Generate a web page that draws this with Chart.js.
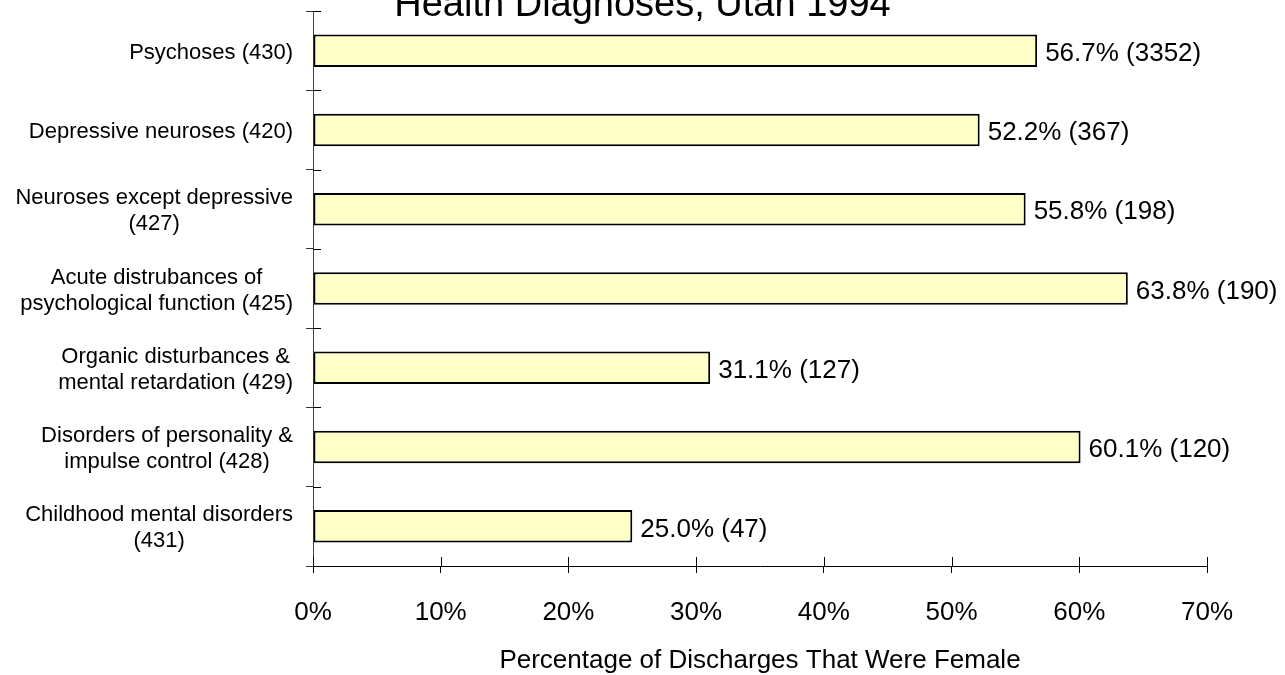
<!DOCTYPE html>
<html>
<head>
<meta charset="utf-8">
<script src="https://cdn.jsdelivr.net/npm/chart.js@4.4.1/dist/chart.umd.min.js"></script>
<style>
  html, body { margin: 0; padding: 0; background: #fff; }
</style>
</head>
<body>
<canvas id="dxChart" width="1285" height="675"></canvas>
<script>
const categories = [
  ['Psychoses (430)'],
  ['Depressive neuroses (420)'],
  ['Neuroses except depressive', '(427)'],
  ['Acute distrubances of', 'psychological function (425)'],
  ['Organic disturbances &', 'mental retardation (429)'],
  ['Disorders of personality &', 'impulse control (428)'],
  ['Childhood mental disorders', '(431)']
];
const pctFemale = [56.7, 52.2, 55.8, 63.8, 31.1, 60.1, 25.0];
const discharges = [3352, 367, 198, 190, 127, 120, 47];
const xTicks = [0, 10, 20, 30, 40, 50, 60, 70];
const titleText = 'Health Diagnoses, Utah 1994';
const xTitle = 'Percentage of Discharges That Were Female';

const FONT = '"Liberation Sans", Arial, sans-serif';

// category labels (centred lines, right-aligned block) + value labels + inner tick halves
const labelPlugin = {
  id: 'dxLabels',
  afterDraw(chart) {
    const ctx = chart.ctx;
    const xs = chart.scales.x;
    const ys = chart.scales.y;
    ctx.save();
    ctx.fillStyle = '#000';

    ctx.font = '22px ' + FONT;
    ctx.textAlign = 'center';
    ctx.textBaseline = 'middle';
    categories.forEach((lines, i) => {
      const cy = ys.getPixelForValue(i) + 2;
      const w = Math.max(...lines.map(l => ctx.measureText(l).width));
      const cx = ys.right - 20 - w / 2;
      lines.forEach((l, j) => {
        ctx.fillText(l, cx, cy + (j - (lines.length - 1) / 2) * 26);
      });
    });

    ctx.font = '26px ' + FONT;
    ctx.textAlign = 'left';
    pctFemale.forEach((v, i) => {
      const px = xs.getPixelForValue(v) + 8;
      const py = ys.getPixelForValue(i) + 3;
      ctx.fillText(v.toFixed(1) + '% (' + discharges[i] + ')', px, py);
    });

    // tick marks cross the axis lines
    ctx.strokeStyle = '#000';
    ctx.lineWidth = 1;
    ctx.beginPath();
    xs.ticks.forEach((t, i) => {
      const px = Math.round(xs.getPixelForTick(i)) + 0.5;
      ctx.moveTo(px, xs.top);
      ctx.lineTo(px, xs.top - 9);
    });
    for (let i = 0; i <= categories.length; i++) {
      const py = Math.round(ys.getPixelForValue(i - 0.5)) + 0.5;
      ctx.moveTo(ys.right, py);
      ctx.lineTo(ys.right + 8, py);
    }
    ctx.stroke();
    ctx.restore();
  }
};

new Chart(document.getElementById('dxChart'), {
  type: 'bar',
  data: {
    labels: categories,
    datasets: [{
      data: pctFemale,
      backgroundColor: '#FFFFC8',
      borderColor: '#000',
      borderWidth: 2,
      borderSkipped: false,
      barPercentage: 0.41,
      categoryPercentage: 1
    }]
  },
  options: {
    indexAxis: 'y',
    responsive: false,
    animation: false,
    layout: { padding: 0 },
    scales: {
      x: {
        min: 0,
        max: 70,
        afterBuildTicks: (scale) => { scale.ticks = xTicks.map(v => ({ value: v })); },
        afterFit: (scale) => { scale.height = 109; },
        border: { color: '#000', width: 1 },
        grid: { drawOnChartArea: false, drawTicks: true, tickLength: 7, color: '#000' },
        ticks: {
          padding: 24,
          color: '#000',
          font: { family: FONT, size: 26 },
          callback: (v) => v + '%'
        },
        title: {
          display: true,
          text: xTitle,
          color: '#000',
          font: { family: FONT, size: 26 },
          padding: { top: 0, bottom: -1 }
        }
      },
      y: {
        afterFit: (scale) => { scale.width = 313; },
        border: { color: '#444', width: 1 },
        grid: { drawOnChartArea: false, drawTicks: true, tickLength: 7, color: '#333', offset: true },
        ticks: { display: false }
      },
      // empty right-hand strip so the value labels have room
      spare: {
        type: 'linear',
        position: 'right',
        afterFit: (scale) => { scale.width = 78; },
        grid: { display: false },
        border: { display: false },
        ticks: { display: false }
      }
    },
    plugins: {
      legend: { display: false },
      tooltip: { enabled: false },
      title: {
        display: true,
        text: titleText,
        color: '#000',
        font: { family: FONT, size: 38, weight: 'normal' },
        padding: { top: -17, bottom: -17.6 }
      }
    }
  },
  plugins: [labelPlugin]
});
</script>
</body>
</html>
